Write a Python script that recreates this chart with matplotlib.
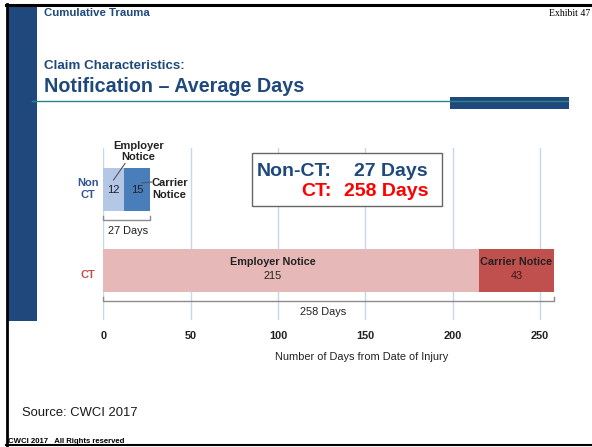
import matplotlib
matplotlib.use("Agg")
import matplotlib.pyplot as plt
from matplotlib.patches import Rectangle

plt.rcParams["font.family"] = ["Liberation Sans", "DejaVu Sans"]

# data
groups = ["CT", "Non-CT"]
employer_days = [215, 12]
carrier_days = [43, 15]
total_days = [e + c for e, c in zip(employer_days, carrier_days)]
xticks = [0, 50, 100, 150, 200, 250]

navy = "#1F497D"
teal = "#2A8488"
c_emp = ["#E6B9B8", "#B4C7E7"]
c_car = ["#C0504D", "#4A7EBB"]
txt = "#222222"

W, H = 592, 447
fig = plt.figure(figsize=(W / 100, H / 100), dpi=100)

# slide background, pixel coordinates
bg = fig.add_axes([0, 0, 1, 1], zorder=0)
bg.set_xlim(0, W)
bg.set_ylim(H, 0)
bg.axis("off")

bg.add_patch(Rectangle((8, 6), 28.5, 315, color=navy, lw=0))
bg.plot([7, 7], [4, 446], color="black", lw=2)
bg.plot([6, W], [5, 5], color="black", lw=2.2)
bg.plot([6, W], [445, 445], color="black", lw=1.5)
bg.add_patch(Rectangle((450, 97), 119, 12, color=navy, lw=0))
bg.plot([32, 568], [101, 101], color=teal, lw=1)

bg.text(43.5, 13, "Cumulative Trauma", fontsize=8.2, fontweight="bold",
        color=navy, va="center")
bg.text(590, 13, "Exhibit 47", fontsize=7, family=["Liberation Serif"],
        color="black", va="center", ha="right")
bg.text(43.5, 66, "Claim Characteristics:", fontsize=9.6, fontweight="bold",
        color=navy, va="center")
bg.text(43.5, 86, "Notification \u2013 Average Days", fontsize=14.2,
        fontweight="bold", color=navy, va="center")
bg.text(22, 413, "Source: CWCI 2017", fontsize=9.4, color="#1a1a1a",
        va="center")
bg.text(8, 441.5, "CWCI 2017   All Rights reserved", fontsize=5.6,
        fontweight="bold", color="black", va="center")

# chart axes: x 0..258 days -> px 103.3..554, y groups
x0, x1 = 103.3, 554.0
y_top, y_bot = 148.0, 320.0
ax = fig.add_axes([x0 / W, 1 - y_bot / H, (x1 - x0) / W, (y_bot - y_top) / H],
                  zorder=1)
ax.patch.set_alpha(0)
ax.set_xlim(0, 258)
ax.set_ylim(-0.613, 1.516)
for s in ax.spines.values():
    s.set_visible(False)
ax.set_yticks([])
ax.set_xticks(xticks)
ax.tick_params(axis="x", length=0, pad=8, labelsize=7.9, labelcolor=txt)
for lab in ax.get_xticklabels():
    lab.set_fontweight("bold")
for t in xticks:
    ax.axvline(t, color="#C6D6EC", lw=1, zorder=0)

ypos = [0, 1]
bh = 0.53
ax.barh(ypos, employer_days, height=bh, color=c_emp, zorder=2)
ax.barh(ypos, carrier_days, left=employer_days, height=bh, color=c_car, zorder=2)

# CT bar labels
ax.text(97, 0.11, "Employer Notice", ha="center", va="center", fontsize=7.8,
        fontweight="bold", color=txt, zorder=3)
ax.text(97, -0.07, str(employer_days[0]), ha="center", va="center",
        fontsize=7.8, color=txt, zorder=3)
mid = employer_days[0] + carrier_days[0] / 2
ax.text(mid, 0.11, "Carrier Notice", ha="center", va="center", fontsize=7.8,
        fontweight="bold", color=txt, zorder=3)
ax.text(mid, -0.07, str(carrier_days[0]), ha="center", va="center",
        fontsize=7.8, color="#3a1a1a", zorder=3)

# Non-CT bar labels
ax.text(employer_days[1] / 2, 1, str(employer_days[1]), ha="center",
        va="center", fontsize=8, color=txt, zorder=3)
ax.text(employer_days[1] + carrier_days[1] / 2, 1, str(carrier_days[1]),
        ha="center", va="center", fontsize=8, color=txt, zorder=3)

# total brackets
bcol = "#8C8C8C"
for y, tot, ly, lx in [(1, total_days[1], 0.372, 14), (0, total_days[0], 0.377, 126)]:
    yb = y - ly if y == 1 else y - ly
    ax.plot([0, 0, tot, tot], [yb + 0.05, yb, yb, yb + 0.05], color=bcol,
            lw=1, zorder=3, clip_on=False)
    ax.text(lx, yb - 0.14, f"{tot} Days", ha="center", va="center",
            fontsize=7.9, color=txt, zorder=3)

# top overlay in pixel coordinates
top = fig.add_axes([0, 0, 1, 1], zorder=3)
top.set_xlim(0, W)
top.set_ylim(H, 0)
top.axis("off")

top.text(88.3, 189, "Non\nCT", ha="center", va="center", fontsize=8,
         fontweight="bold", color="#2F5597", linespacing=1.15)
top.text(88, 275.5, "CT", ha="center", va="center", fontsize=8,
         fontweight="bold", color="#C0504D")
top.text(138.5, 151.5, "Employer\nNotice", ha="center", va="center",
         fontsize=8, fontweight="bold", color=txt, linespacing=1.15)
top.plot([125, 113.5], [163.5, 180], color="#555555", lw=0.8)
top.text(152, 189, "Carrier\nNotice", ha="left", va="center",
         fontsize=8, fontweight="bold", color=txt, linespacing=1.15)
top.plot([142, 151.5], [183, 182], color="#555555", lw=0.8)

top.text(362, 357, "Number of Days from Date of Injury", ha="center",
         va="center", fontsize=7.9, color=txt)

# summary box
top.add_patch(Rectangle((251.7, 153.3), 190.6, 52.4, facecolor="white",
                        edgecolor="#666666", lw=1))
top.text(331.7, 171, "Non-CT:", ha="right", va="center", fontsize=14,
         fontweight="bold", color=navy)
top.text(428, 171, f"{total_days[1]} Days", ha="right", va="center",
         fontsize=14, fontweight="bold", color=navy)
top.text(331.7, 192, "CT:", ha="right", va="center", fontsize=14,
         fontweight="bold", color="#FF0000")
top.text(428, 192, f"{total_days[0]} Days", ha="right", va="center",
         fontsize=14, fontweight="bold", color="#FF0000")

fig.savefig("out.png", dpi=100)
